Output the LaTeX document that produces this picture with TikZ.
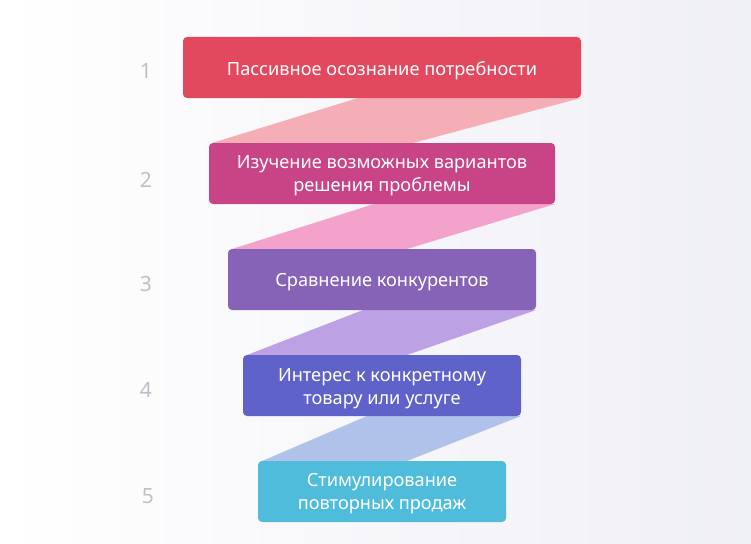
\documentclass[tikz,border=0pt]{standalone}
\usepackage{fontspec}
\setmainfont{Noto Sans}
\usetikzlibrary{shapes.geometric}
\definecolor{bgR}{HTML}{EFEFF6}
\definecolor{cA}{HTML}{E2495E}
\definecolor{cB}{HTML}{C84487}
\definecolor{cC}{HTML}{8763B8}
\definecolor{cD}{HTML}{5E62C9}
\definecolor{cE}{HTML}{50BCDC}
\definecolor{rA}{HTML}{F6AEB6}
\definecolor{rB}{HTML}{F3A2CB}
\definecolor{rC}{HTML}{BCA1E4}
\definecolor{rD}{HTML}{B0C2E9}
\definecolor{numgray}{HTML}{BFBFC7}
\tikzset{
  stagebox/.style={rounded corners=4pt, inner sep=0pt, text=white, align=center,
    font=\fontsize{18.2}{23}\selectfont},
  stagenum/.style={text=numgray, font=\fontsize{21}{24}\selectfont, inner sep=0pt},
}
\begin{document}
\begin{tikzpicture}[x=1pt,y=-1pt]
\useasboundingbox (0,0) rectangle (751,543);
\shade[left color=white, right color=bgR] (0,0) rectangle (751,543);
% boxes as coordinates
\coordinate (a1) at (183,37); \coordinate (a2) at (581,98);
\coordinate (b1) at (209,143); \coordinate (b2) at (555,204);
\coordinate (c1) at (228,249); \coordinate (c2) at (536,310);
\coordinate (d1) at (243,355); \coordinate (d2) at (521,416);
\coordinate (e1) at (258,461); \coordinate (e2) at (506,522);
% ribbons
\fill[rA] (358,98) -- (a2) -- (413,143) -- (212,143) -- cycle;
\fill[rB] (374,204) -- (b2) -- (407,249) -- (232,249) -- cycle;
\fill[rC] (363,310) -- (c2) -- (407,355) -- (247,355) -- cycle;
\fill[rD] (367,416) -- (d2) -- (407,461) -- (262,461) -- cycle;
% boxes
\fill[cA, rounded corners=4pt] (a1) rectangle (a2);
\fill[cB, rounded corners=4pt] (b1) rectangle (b2);
\fill[cC, rounded corners=4pt] (c1) rectangle (c2);
\fill[cD, rounded corners=4pt] (d1) rectangle (d2);
\fill[cE, rounded corners=4pt] (e1) rectangle (e2);
\node[stagebox] (s1) at (382,70.5) {Пассивное осознание потребности};
\node[stagebox] (s2) at (382,176) {Изучение возможных вариантов\\решения проблемы};
\node[stagebox] (s3) at (382,282) {Сравнение конкурентов};
\node[stagebox] (s4) at (382,389) {Интерес к конкретному\\товару или услуге};
\node[stagebox] (s5) at (382,494) {Стимулирование\\повторных продаж};
\node[stagenum] (n1) at (146,71) {1};
\node[stagenum] (n2) at (146,180) {2};
\node[stagenum] (n3) at (146,284) {3};
\node[stagenum] (n4) at (146,390) {4};
\node[stagenum] (n5) at (148,496) {5};
\end{tikzpicture}
\end{document}
